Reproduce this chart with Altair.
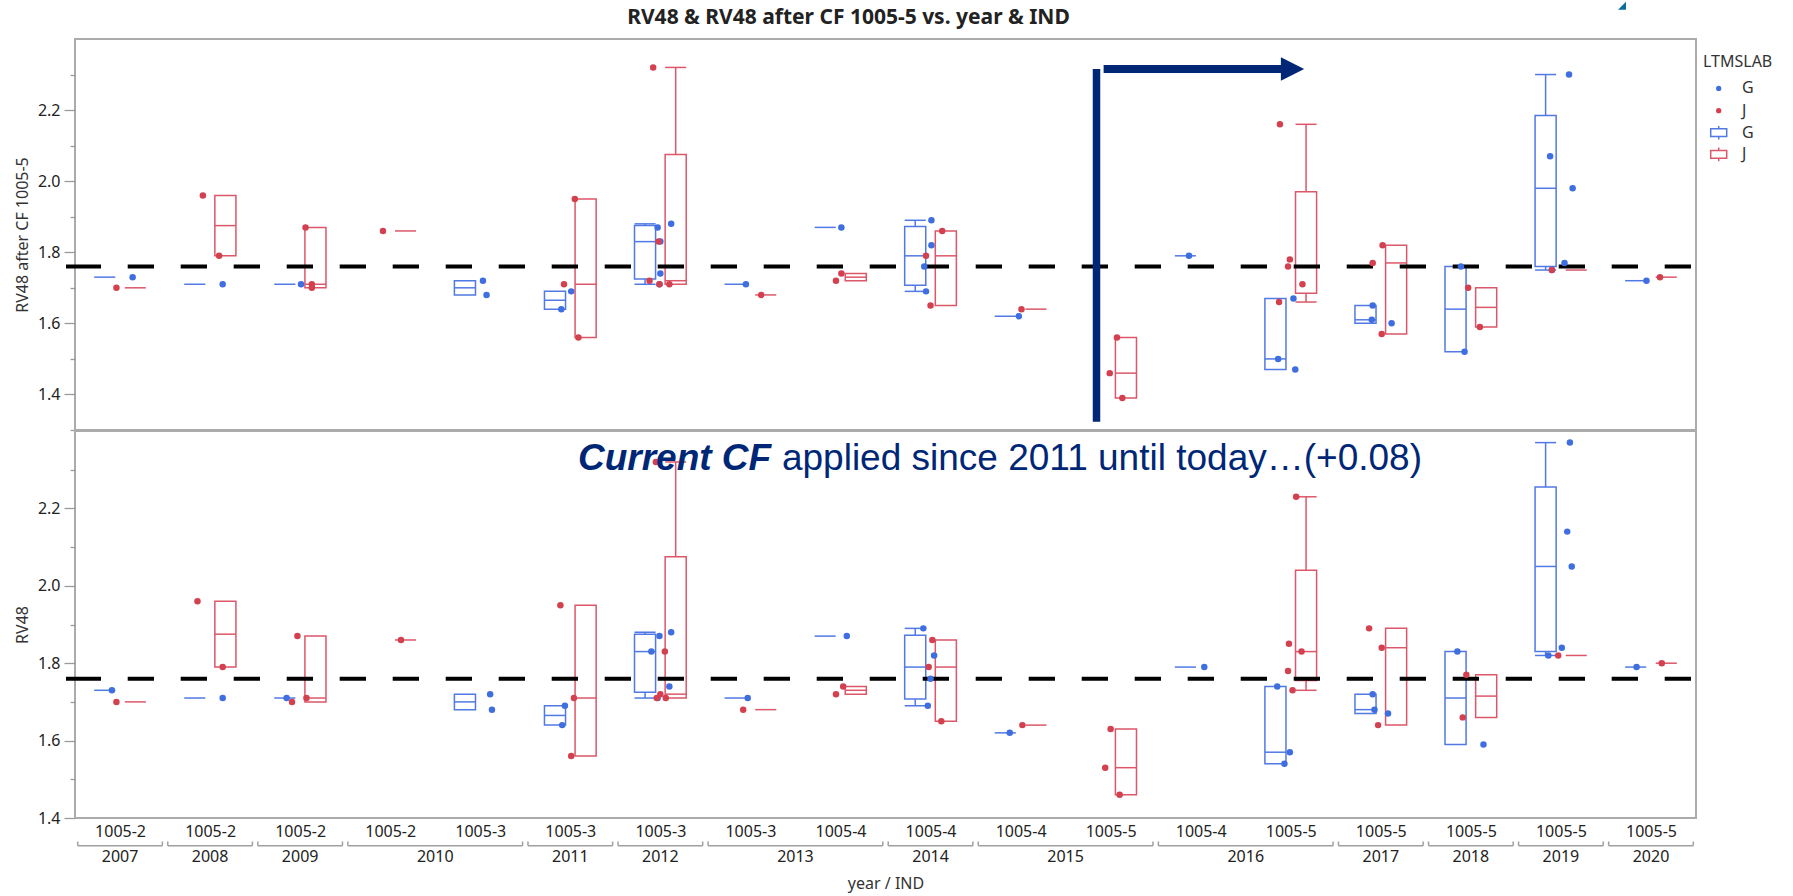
import altair as alt
import numpy as np
import pandas as pd

# ---------------- data ----------------
IND = ["1005-2", "1005-2", "1005-2", "1005-2", "1005-3", "1005-3", "1005-3", "1005-3", "1005-4",
       "1005-4", "1005-4", "1005-5", "1005-4", "1005-5", "1005-5", "1005-5", "1005-5", "1005-5"]
YEAR = ["2007", "2008", "2009", "2010", "2010", "2011", "2012", "2013", "2013",
        "2014", "2015", "2015", "2016", "2016", "2017", "2018", "2019", "2020"]
GROUPS = ["G", "J"]

# top panel: RV48 after CF 1005-5 (one list per x category)
TOP_G = [[1.73], [1.71], [1.71], [], [1.72, 1.68], [1.69, 1.64], [1.87, 1.83, 1.88, 1.74, 1.71],
         [1.71], [1.87], [1.89, 1.82, 1.76, 1.69], [1.62], [], [1.79], [1.67, 1.50, 1.47],
         [1.65, 1.61, 1.60], [1.76, 1.52], [2.30, 2.07, 1.98, 1.77, 1.75], [1.72]]
TOP_G_JIT = [[0.14], [0.14], [0.01], [], [0.03, 0.07], [0.01, -0.10], [-0.03, 0.00, 0.12, 0.00, -0.01],
             [-0.05], [0.01], [0.01, 0.01, -0.07, -0.05], [-0.02], [], [-0.13], [0.03, -0.14, 0.05],
             [-0.09, -0.10, 0.12], [-0.11, -0.07], [0.09, -0.12, 0.13, 0.04, -0.10], [-0.05]]
TOP_J = [[1.70], [1.96, 1.79], [1.87, 1.71, 1.70], [1.86], [], [1.95, 1.71, 1.56],
         [2.32, 1.83, 1.72, 1.71, 1.71], [1.68], [1.74, 1.72], [1.86, 1.79, 1.65], [1.64],
         [1.56, 1.46, 1.39], [], [2.16, 1.78, 1.76, 1.71, 1.66], [1.82, 1.77, 1.57], [1.70, 1.59],
         [1.75], [1.73]]
TOP_J_JIT = [[-0.04], [-0.08, 0.10], [0.06, 0.13, 0.13], [-0.08], [], [0.05, -0.07, 0.09],
             [-0.08, -0.02, -0.12, -0.01, 0.10], [0.12], [0.01, -0.05], [0.13, -0.05, 0.00], [0.01],
             [0.07, -0.01, 0.13], [], [-0.12, -0.01, -0.03, 0.13, -0.13], [0.02, -0.09, 0.01], [-0.03, 0.10],
             [-0.10], [0.10]]

# bottom panel: RV48
BOT_G = [[1.73], [1.71], [1.71], [], [1.72, 1.68], [1.69, 1.64], [1.88, 1.87, 1.83, 1.74, 1.71],
         [1.71], [1.87], [1.89, 1.82, 1.76, 1.69], [1.62], [], [1.79], [1.74, 1.57, 1.54],
         [1.72, 1.68, 1.67], [1.83, 1.59], [2.37, 2.14, 2.05, 1.84, 1.82], [1.79]]
BOT_G_JIT = [[-0.09], [0.14], [-0.15], [], [0.11, 0.13], [-0.06, -0.09], [0.12, -0.01, -0.10, 0.10, -0.03],
             [-0.03], [0.07], [-0.08, 0.04, 0.00, -0.03], [-0.12], [], [0.04], [-0.15, -0.01, -0.07],
             [-0.09, -0.07, 0.08], [-0.15, 0.14], [0.10, 0.07, 0.12, 0.01, -0.14], [-0.16]]
BOT_J = [[1.70], [1.96, 1.79], [1.87, 1.71, 1.70], [1.86], [], [1.95, 1.71, 1.56],
         [2.32, 1.83, 1.72, 1.71, 1.71], [1.68], [1.74, 1.72], [1.86, 1.79, 1.65], [1.64],
         [1.63, 1.53, 1.46], [], [2.23, 1.85, 1.83, 1.78, 1.73], [1.89, 1.84, 1.64], [1.77, 1.66],
         [1.82], [1.80]]
BOT_J_JIT = [[-0.04], [-0.14, 0.14], [-0.03, 0.07, -0.09], [0.12], [], [-0.11, 0.04, 0.01],
             [-0.05, 0.05, 0.00, 0.06, -0.04], [-0.08], [0.03, -0.05], [0.02, -0.02, 0.12], [0.02],
             [0.00, -0.06, 0.10], [], [0.06, -0.02, 0.12, -0.03, 0.02], [-0.13, 0.01, -0.03], [-0.05, -0.09],
             [-0.03], [0.12]]

TOP_TICKS = [1.3, 1.4, 1.5, 1.6, 1.7, 1.8, 1.9, 2.0, 2.1, 2.2, 2.3]
BOT_TICKS = [1.4, 1.5, 1.6, 1.7, 1.8, 1.9, 2.0, 2.1, 2.2, 2.3]
REF_VALUE = 1.76

TITLE = "RV48 & RV48 after CF 1005-5 vs. year & IND"
LEGEND_TITLE = "LTMSLAB"
NOTE_BOLD = "Current CF"
NOTE_REST = "applied since 2011 until today\u2026(+0.08)"

# annotation anchor points (data units of the top / bottom panel)
BAR_X, BAR_Y1, BAR_Y2 = 11.343, 1.3235, 2.3156
ARROW_X1, ARROW_X2, ARROW_HEAD_X = 11.422, 13.40, 13.52
NOTE_X1, NOTE_X2, NOTE_Y = 5.585, 7.85, 2.300

# ---------------- styling ----------------
W = 1621
H_TOP = 391
H_BOT = 387
GAP = 1
TOP_MARGIN = 37.3
BOX_OFF = {"G": -0.17, "J": 0.17}
BOX_HALF = 0.117
PT_COLORS = ["#3f6ee0", "#d3404f"]
BOX_COLORS = ["#5079e4", "#dc5769"]
NAVY = "#002776"
TEAL = "#0b6d98"
TXT = "#222222"
FONT = "Noto Sans"


def build(vals_g, jit_g, vals_j, jit_j):
    pts, boxes, whisk, caps = [], [], [], []
    for grp, vals, jits in (("G", vals_g, jit_g), ("J", vals_j, jit_j)):
        for i, (vs, js) in enumerate(zip(vals, jits)):
            for v, j in zip(vs, js):
                pts.append(dict(grp=grp, value=v, x=i + 0.5 + j))
            if not vs:
                continue
            a = np.sort(np.array(vs, dtype=float))
            q1, med, q3 = np.percentile(a, [25, 50, 75], method="weibull")
            iqr = q3 - q1
            lo = a[a >= q1 - 1.5 * iqr].min()
            hi = a[a <= q3 + 1.5 * iqr].max()
            xc = i + 0.5 + BOX_OFF[grp]
            xl, xr = xc - BOX_HALF, xc + BOX_HALF
            boxes.append(dict(grp=grp, n=len(vs), q1=q1, med=med, q3=q3, xl=xl, xr=xr, xc=xc))
            if hi > q3 + 1e-9:
                whisk.append(dict(grp=grp, xc=xc, y=q3, y2=hi))
                caps.append(dict(grp=grp, xl=xl, xr=xr, y=hi))
            if lo < q1 - 1e-9:
                whisk.append(dict(grp=grp, xc=xc, y=lo, y2=q1))
                caps.append(dict(grp=grp, xl=xl, xr=xr, y=lo))
    return (pd.DataFrame(pts), pd.DataFrame(boxes),
            pd.DataFrame(whisk, columns=["grp", "xc", "y", "y2"]),
            pd.DataFrame(caps, columns=["grp", "xl", "xr", "y"]))


ind_expr = "[" + ",".join("'%s'" % s for s in IND) + "][floor(datum.value)]"
even_test = "round(datum.value * 10) % 2 == 0"

stroke_enc = alt.Stroke("grp:N", scale=alt.Scale(domain=GROUPS, range=BOX_COLORS), legend=None)
color_enc = alt.Color("grp:N", scale=alt.Scale(domain=GROUPS, range=PT_COLORS), legend=None)

dash = [35, 26.7] + [26.3, 26.7] * 40


def panel(vals_g, jit_g, vals_j, jit_j, domain, ticks, ytitle, height, bottom, title=None):
    pts, boxes, whisk, caps = build(vals_g, jit_g, vals_j, jit_j)
    xscale = alt.Scale(domain=[0, 18], nice=False, zero=False)
    if bottom:
        xaxis = alt.Axis(values=[i + 0.5 for i in range(len(IND))], labelExpr=ind_expr,
                         title="year / IND", ticks=False, tickSize=0, domain=False, grid=False,
                         labelFontSize=16, labelPadding=13.4, labelBaseline="middle",
                         labelOverlap=False, labelFlush=False, labelColor=TXT,
                         titleFontSize=16, titleFontWeight="normal", titleColor="#333333",
                         titleX=W / 2, titleY=65.7, titleBaseline="middle", titleAlign="center")
    else:
        xaxis = None
    yscale = alt.Scale(domain=domain, nice=False, zero=False)
    yaxis = alt.Axis(values=ticks, labelExpr="%s ? format(datum.value, '.1f') : ''" % even_test,
                     tickSize={"condition": {"test": even_test, "value": 11}, "value": 5},
                     tickColor="#9a9a9a", tickWidth=1.3, domain=False, grid=False,
                     labelFontSize=16, labelPadding=4, labelColor=TXT, title=ytitle,
                     titleFontSize=16, titleFontWeight="normal", titleColor="#333333",
                     titleX=-53, titleY=height / 2, titleAngle=270, titleBaseline="middle",
                     titleAlign="center")

    def X(f):
        return alt.X(f, type="quantitative", scale=xscale, axis=xaxis)

    def Y(f):
        return alt.Y(f, type="quantitative", scale=yscale, axis=yaxis)

    multi = boxes[boxes["n"] > 1]
    layers = [
        alt.Chart(multi).mark_rect(fillOpacity=0, strokeWidth=1.5).encode(
            x=X("xl"), x2="xr", y=Y("q1"), y2="q3", stroke=stroke_enc),
        alt.Chart(boxes).mark_rule(strokeWidth=1.5).encode(
            x=X("xl"), x2="xr", y=Y("med"), stroke=stroke_enc),
        alt.Chart(whisk).mark_rule(strokeWidth=1.5).encode(
            x=X("xc"), y=Y("y"), y2="y2", stroke=stroke_enc),
        alt.Chart(caps).mark_rule(strokeWidth=1.5).encode(
            x=X("xl"), x2="xr", y=Y("y"), stroke=stroke_enc),
        alt.Chart(pd.DataFrame({"ref": [REF_VALUE]})).mark_rule(
            color="black", strokeWidth=4, strokeDash=dash, strokeCap="butt").encode(
            x=alt.value(-9), x2=alt.value(W - 4.6), y=Y("ref")),
        alt.Chart(pts).mark_circle(size=42, opacity=1).encode(
            x=X("x"), y=Y("value"), color=color_enc),
    ]
    one = pd.DataFrame({"a": [0]})
    if not bottom:
        bar = pd.DataFrame({"x": [BAR_X], "y": [BAR_Y1], "y2": [BAR_Y2]})
        shaft = pd.DataFrame({"x": [ARROW_X1], "x2": [ARROW_X2], "y": [BAR_Y2]})
        head = pd.DataFrame({"x": [ARROW_HEAD_X], "y": [BAR_Y2]})
        layers += [
            alt.Chart(bar).mark_rule(color=NAVY, strokeWidth=7.5, strokeCap="butt").encode(
                x=X("x"), y=Y("y"), y2="y2"),
            alt.Chart(shaft).mark_rule(color=NAVY, strokeWidth=8, strokeCap="butt").encode(
                x=X("x"), x2="x2", y=Y("y")),
            alt.Chart(head).mark_point(shape="M -1 -1 L 1 0 L -1 1 Z", size=543, filled=True,
                                       opacity=1, color=NAVY).encode(x=X("x"), y=Y("y")),
        ]
        # legend (drawn by hand to mimic JMP's combined legend)
        ys = [49.4, 71.7, 93.7, 115.4]
        labels = ["G", "J", "G", "J"]
        box_path = "M -1 -0.48 H 1 V 0.48 H -1 Z M 0 -0.48 V -0.85 M 0 0.48 V 0.85"
        layers.append(alt.Chart(one).mark_text(text=LEGEND_TITLE, align="left", baseline="middle",
                                               fontSize=16, color="#333333").encode(
            x=alt.value(W + 7), y=alt.value(22.7)))
        for k in range(4):
            if k < 2:
                sym = alt.Chart(one).mark_point(shape="circle", filled=True, size=28, opacity=1,
                                                color=PT_COLORS[k])
            else:
                sym = alt.Chart(one).mark_point(shape=box_path, filled=False, size=256, opacity=1,
                                                strokeWidth=1.5, color=BOX_COLORS[k - 2])
            layers.append(sym.encode(x=alt.value(W + 22.7), y=alt.value(ys[k])))
            layers.append(alt.Chart(one).mark_text(text=labels[k], align="left", baseline="middle",
                                                   fontSize=16, color="#333333").encode(
                x=alt.value(W + 46), y=alt.value(ys[k])))
    else:
        note = pd.DataFrame({"x": [NOTE_X1], "x2": [NOTE_X2], "y": [NOTE_Y]})
        layers += [
            alt.Chart(note).mark_text(text=NOTE_BOLD, align="left", baseline="alphabetic",
                                      font="Liberation Sans", fontSize=37, fontWeight="bold",
                                      fontStyle="italic", color=NAVY).encode(x=X("x"), y=Y("y")),
            alt.Chart(note).mark_text(text=NOTE_REST, align="left", baseline="alphabetic",
                                      font="Liberation Sans", fontSize=37, color=NAVY).encode(
                x=X("x2"), y=Y("y")),
            # small slide decoration in the top-right corner of the page
            alt.Chart(one).mark_point(shape="M -1 1 L 1 1 L 1 -1 Z", size=64, filled=True,
                                      opacity=1, color=TEAL).encode(
                x=alt.value(W - 74), y=alt.value(-(H_TOP + GAP + TOP_MARGIN) + 4)),
        ]
        # nested year level of the x axis
        spans = []
        start = 0
        for i in range(1, len(YEAR) + 1):
            if i == len(YEAR) or YEAR[i] != YEAR[start]:
                spans.append(dict(year=YEAR[start], s=start + 0.03, e=i - 0.03, m=(start + i) / 2))
                start = i
        sp = pd.DataFrame(spans)
        ends = pd.DataFrame({"p": list(sp["s"]) + list(sp["e"])})
        layers += [
            alt.Chart(sp).mark_rule(color="#a0a0a0", strokeWidth=1.5).encode(
                x=X("s"), x2="e", y=alt.value(height + 27.7)),
            alt.Chart(ends).mark_rule(color="#a0a0a0", strokeWidth=1.5).encode(
                x=X("p"), y=alt.value(height + 23.5), y2=alt.value(height + 27.7)),
            alt.Chart(sp).mark_text(baseline="middle", align="center", fontSize=16, color=TXT).encode(
                x=X("m"), y=alt.value(height + 39.4), text="year:N"),
        ]
    ch = alt.layer(*layers).properties(width=W, height=height)
    if title is not None:
        ch = ch.properties(title=alt.TitleParams(title, anchor="middle", frame="group", fontSize=21,
                                                 fontWeight="bold", color=TXT, offset=-10,
                                                 dx=-37, baseline="bottom"))
    return ch


top = panel(TOP_G, TOP_G_JIT, TOP_J, TOP_J_JIT, [1.3, 2.4], TOP_TICKS, "RV48 after CF 1005-5",
            H_TOP, False, title=TITLE)
bot = panel(BOT_G, BOT_G_JIT, BOT_J, BOT_J_JIT, [1.4, 2.4], BOT_TICKS, "RV48", H_BOT, True)

chart = alt.vconcat(top, bot, spacing=GAP, bounds="flush").properties(
    padding={"left": 13, "top": 0, "right": 5, "bottom": 0}
).configure(font=FONT).configure_view(stroke="#ababab", strokeWidth=2)

chart.save("out.html", embed_options={"renderer": "svg", "actions": False})
